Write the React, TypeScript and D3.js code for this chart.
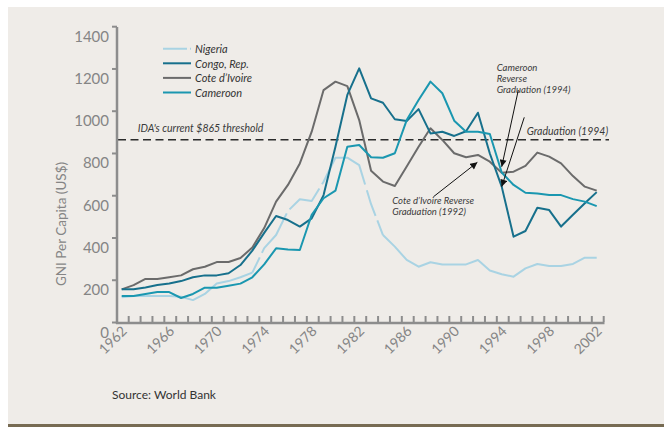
import React from "react";
import * as d3 from "d3";

const years = d3.range(1962, 2003);
const yearLabels = [1962, 1966, 1970, 1974, 1978, 1982, 1986, 1990, 1994, 1998, 2002];
const valueTicks = [0, 200, 400, 600, 800, 1000, 1200, 1400];

const nigeria = [
  119, 125, 125, 125, 125, 122, 106, 135, 185, 196, 214,
  236, 352, 414, 528, 583, 575, 666, 780, 780, 745,
  560, 414, 359, 296, 264, 285, 275, 275, 275, 296,
  246, 228, 217, 256, 277, 267, 267, 277, 307, 307,
];
const congo = [
  157, 157, 166, 177, 185, 196, 214, 223, 223, 233, 272,
  340, 424, 504, 485, 454, 493, 603, 832, 1077, 1203,
  1061, 1040, 962, 954, 1010, 895, 903, 883, 905, 993,
  800, 643, 406, 433, 543, 532, 454, 510, 564, 617,
];
const coteDIvoire = [
  157, 177, 206, 206, 214, 223, 252, 264, 286, 286, 305,
  355, 447, 572, 651, 753, 903, 1100, 1140, 1119, 958,
  718, 667, 646, 738, 832, 919, 864, 801, 782, 793,
  761, 709, 714, 741, 804, 785, 753, 693, 643, 624,
];
const cameroon = [
  125, 125, 135, 144, 144, 116, 135, 165, 165, 174, 184,
  214, 275, 351, 346, 343, 510, 588, 624, 832, 840,
  782, 780, 801, 958, 1053, 1140, 1085, 955, 903, 903,
  892, 710, 651, 614, 611, 603, 603, 584, 572, 551,
];

const threshold = 865;

const series = [
  { name: "Nigeria", values: nigeria, color: "#a9d3e3", dashed: true },
  { name: "Cote d\u2019Ivoire", values: coteDIvoire, color: "#6b6b6b" },
  { name: "Congo, Rep.", values: congo, color: "#17708c" },
  { name: "Cameroon", values: cameroon, color: "#1a97b0" },
];
const legendOrder = ["Nigeria", "Congo, Rep.", "Cote d\u2019Ivoire", "Cameroon"];

// arrows given in (year, value) space
const arrows = [
  { from: [1995.4, 1100], to: [1994.0, 737] },
  { from: [1995.9, 971], to: [1994.0, 643] },
  { from: [1988.25, 595], to: [1991.95, 758] },
];

const font = "Lato, 'Open Sans', sans-serif";

export default function App() {
  const x = d3.scaleLinear().domain([1962, 2002]).range([121.7, 596.7]);
  const y = d3.scaleLinear().domain([0, 1400]).range([322.5, 26.7]);

  const line = d3
    .line<[number, number]>()
    .x((d) => x(d[0]))
    .y((d) => y(d[1]));

  const pts = (vals: number[]) => years.map((yr, i) => [yr, vals[i]] as [number, number]);
  const axisColor = "#8d8d8d";

  return (
    <svg
      width={670}
      height={433}
      style={{ position: "absolute", left: 0, top: 0, background: "#fff" }}
    >
      <defs>
        <marker
          id="ah"
          viewBox="0 0 10 10"
          refX="10"
          refY="5"
          markerWidth="8"
          markerHeight="7"
          markerUnits="userSpaceOnUse"
          orient="auto"
        >
          <path d="M0,0 L10,5 L0,10 Z" fill="#111" />
        </marker>
      </defs>
      <rect x={8} y={7} width={656} height={417} fill="#efece8" />
      <rect x={8} y={424} width={656} height={3} fill="#776b53" />

      {/* threshold */}
      <line
        x1={118}
        x2={609}
        y1={y(threshold)}
        y2={y(threshold)}
        stroke="#2b2b2b"
        strokeWidth={1.5}
        strokeDasharray="8,4.5"
      />

      {/* series */}
      {series.map((s) => {
        const p = pts(s.values);
        if (!s.dashed) {
          return (
            <path key={s.name} d={line(p) || ""} fill="none" stroke={s.color} strokeWidth={2} strokeLinejoin="round" />
          );
        }
        const a = p.filter((d) => d[0] <= 1973);
        const b = p.filter((d) => d[0] >= 1973 && d[0] <= 1984);
        const c = p.filter((d) => d[0] >= 1984);
        return (
          <g key={s.name} fill="none" stroke={s.color} strokeWidth={2} strokeLinejoin="round">
            <path d={line(a) || ""} />
            <path d={line(b) || ""} strokeDasharray="17,5,47,5,41,5,76,6,27,5,400" />
            <path d={line(c) || ""} />
          </g>
        );
      })}

      {/* axes */}
      <line x1={117} x2={117} y1={27} y2={324} stroke={axisColor} strokeWidth={2.5} />
      <line x1={116} x2={604.5} y1={323} y2={323} stroke={axisColor} strokeWidth={2.5} />
      {years.map((yr) => (
        <line key={yr} x1={x(yr) + 7} x2={x(yr) + 7} y1={316} y2={322} stroke={axisColor} strokeWidth={2} />
      ))}
      {valueTicks.map((v) => (
        <g key={v}>
          <line x1={112} x2={117} y1={y(v)} y2={y(v)} stroke={axisColor} strokeWidth={2} />
          <text
            x={109}
            y={y(v) + 9}
            textAnchor="end"
            dominantBaseline="central"
            fontFamily={font}
            fontSize={15}
            fill="#858585"
          >
            {v}
          </text>
        </g>
      ))}
      {yearLabels.map((yr) => (
        <text
          key={yr}
          transform={`translate(${x(yr) + 6},${332}) rotate(-45)`}
          textAnchor="end"
          fontFamily={font}
          fontSize={14}
          fill="#858585"
        >
          {yr}
        </text>
      ))}
      <text
        transform="translate(66,224) rotate(-90)"
        textAnchor="middle"
        fontFamily={font}
        fontSize={13.5}
        fill="#858585"
      >
        GNI Per Capita (US$)
      </text>

      {/* legend */}
      {legendOrder.map((name, i) => {
        const s = series.find((d) => d.name === name)!;
        const ly = 48.7 + i * 14.6;
        return (
          <g key={name}>
            <line
              x1={163}
              x2={191}
              y1={ly}
              y2={ly}
              stroke={s.color}
              strokeWidth={2}
              strokeDasharray={s.dashed ? "24,3,2,3" : undefined}
            />
            <text
              x={195}
              y={ly}
              dominantBaseline="central"
              fontFamily={font}
              fontStyle="italic"
              fontSize={11}
              fill="#333"
            >
              {name}
            </text>
          </g>
        );
      })}

      {/* annotations */}
      <g fontFamily={font} fontStyle="italic" fontSize={10.5} fill="#3a3a3a">
        <text x={137.7} y={132}>IDA's current $865 threshold</text>
        <text x={526.7} y={134.5}>Graduation (1994)</text>
      </g>
      <g fontFamily={font} fontStyle="italic" fontSize={9.5} fill="#3a3a3a">
        <text x={496.7} y={70.5}>Cameroon</text>
        <text x={496.7} y={81.5}>Reverse</text>
        <text x={496.7} y={92.5}>Graduation (1994)</text>
        <text x={392.3} y={204}>Cote d’Ivoire Reverse</text>
        <text x={392.3} y={215}>Graduation (1992)</text>
      </g>
      {arrows.map((a, i) => (
        <line
          key={i}
          x1={x(a.from[0])}
          y1={y(a.from[1])}
          x2={x(a.to[0])}
          y2={y(a.to[1])}
          stroke="#111"
          strokeWidth={1}
          markerEnd="url(#ah)"
        />
      ))}

      <text x={112} y={399} fontFamily={font} fontSize={12} fill="#333">
        Source: World Bank
      </text>
    </svg>
  );
}
